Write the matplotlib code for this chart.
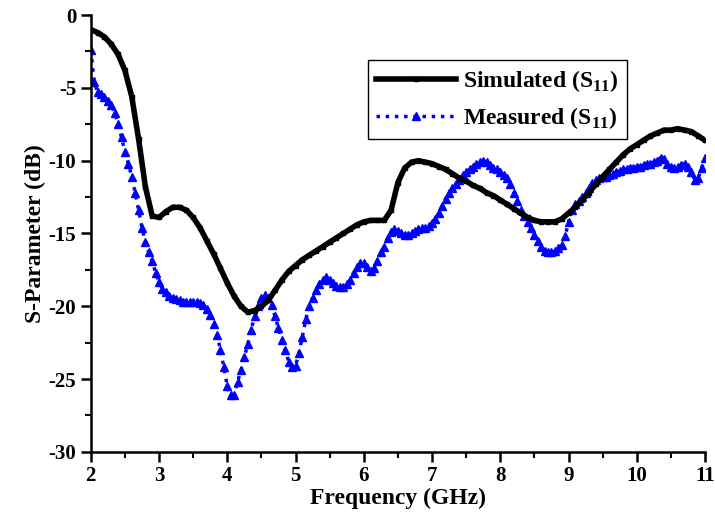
import numpy as np
import matplotlib
matplotlib.use("Agg")
import matplotlib.pyplot as plt
from matplotlib.ticker import MultipleLocator

plt.rcParams["font.family"] = ["Liberation Serif", "DejaVu Serif"]
plt.rcParams["font.weight"] = "bold"
plt.rcParams["axes.unicode_minus"] = False
plt.rcParams["mathtext.fontset"] = "custom"
plt.rcParams["mathtext.rm"] = "Liberation Serif:bold"
plt.rcParams["mathtext.bf"] = "Liberation Serif:bold"

# frequency grids (GHz)
freq_sim = np.round(np.arange(2.0, 11.0001, 0.1), 2)
freq_meas = np.round(np.arange(2.0, 11.0001, 0.05), 2)

# simulated S11 (dB)
s11_sim = [
    -1.0, -1.2, -1.5, -2.0, -2.7, -3.8, -5.6, -8.5, -11.8, -13.8,
    -13.9, -13.5, -13.2, -13.2, -13.4, -13.9, -14.6, -15.5, -16.4, -17.4,
    -18.4, -19.3, -20.0, -20.4, -20.3, -20.0, -19.6, -18.9, -18.2, -17.6,
    -17.2, -16.8, -16.5, -16.2, -15.9, -15.6, -15.3, -15.0, -14.7, -14.4,
    -14.2, -14.1, -14.1, -14.1, -13.4, -11.5, -10.5, -10.1, -10.0, -10.1,
    -10.2, -10.4, -10.6, -10.9, -11.2, -11.4, -11.7, -11.9, -12.2, -12.4,
    -12.7, -13.0, -13.3, -13.6, -13.9, -14.1, -14.2, -14.2, -14.2, -14.0,
    -13.6, -13.2, -12.7, -12.2, -11.6, -11.1, -10.6, -10.1, -9.6, -9.2,
    -8.9, -8.6, -8.3, -8.1, -7.9, -7.9, -7.8, -7.9, -8.0, -8.3,
    -8.6,
]

# measured S11 (dB)
s11_meas = [
    -2.4, -4.6, -5.3, -5.4, -5.6, -5.9, -6.2, -6.7, -7.5, -8.4,
    -9.4, -10.2, -11.1, -12.2, -13.4, -14.6, -15.6, -16.3, -16.9, -17.7,
    -18.3, -18.8, -19.0, -19.3, -19.4, -19.5, -19.6, -19.7, -19.7, -19.7,
    -19.7, -19.7, -19.8, -19.9, -20.2, -20.6, -21.2, -22.0, -23.0, -24.2,
    -25.5, -26.1, -26.1, -25.2, -24.4, -23.5, -22.6, -21.6, -20.7, -20.0,
    -19.4, -19.2, -19.4, -19.9, -20.7, -21.5, -22.3, -23.0, -23.8, -24.2,
    -24.1, -23.2, -22.1, -20.9, -20.0, -19.4, -18.9, -18.5, -18.2, -18.0,
    -18.2, -18.4, -18.6, -18.7, -18.7, -18.5, -18.2, -17.7, -17.3, -17.0,
    -17.0, -17.3, -17.6, -17.4, -16.9, -16.3, -15.9, -15.3, -14.9, -14.7,
    -14.8, -15.0, -15.1, -15.1, -15.0, -14.8, -14.7, -14.6, -14.6, -14.5,
    -14.3, -14.0, -13.6, -13.1, -12.6, -12.2, -11.9, -11.6, -11.3, -11.0,
    -10.8, -10.6, -10.4, -10.2, -10.1, -10.0, -10.1, -10.3, -10.5, -10.6,
    -10.8, -11.0, -11.2, -11.6, -12.2, -12.8, -13.4, -13.8, -14.2, -14.6,
    -15.1, -15.5, -15.9, -16.2, -16.3, -16.3, -16.2, -16.0, -15.8, -15.2,
    -14.2, -13.4, -13.0, -12.8, -12.5, -12.2, -11.9, -11.5, -11.3, -11.2,
    -11.1, -11.1, -11.0, -10.9, -10.8, -10.7, -10.6, -10.6, -10.5, -10.5,
    -10.4, -10.4, -10.3, -10.2, -10.2, -10.1, -10.0, -9.8, -9.9, -10.2,
    -10.4, -10.5, -10.4, -10.3, -10.2, -10.4, -10.8, -11.3, -11.2, -10.5,
    -9.8,
]

fig = plt.figure(figsize=(7.15, 5.2), dpi=100)
ax = fig.add_axes([0.127, 0.131, 0.859, 0.840])

ax.plot(freq_sim, s11_sim, color="black", lw=4.0, marker="s", ms=2.5,
        label=r"Simulated (S$_{11}$)", zorder=3)
ax.plot(freq_meas, s11_meas, color="blue", lw=2.5, ls=":", marker="^", ms=6,
        label=r"Measured (S$_{11}$)", zorder=2)

ax.set_xlim(2, 11)
ax.set_ylim(-30, 0)
ax.xaxis.set_major_locator(MultipleLocator(1))
ax.xaxis.set_minor_locator(MultipleLocator(0.5))
ax.yaxis.set_major_locator(MultipleLocator(5))
ax.yaxis.set_minor_locator(MultipleLocator(2.5))

for side in ("top", "right"):
    ax.spines[side].set_visible(False)
for side in ("left", "bottom"):
    ax.spines[side].set_linewidth(1.8)

ax.tick_params(which="major", direction="out", length=7, width=1.8,
               labelsize=15)
ax.tick_params(which="minor", direction="out", length=4, width=1.5)
for lab in ax.get_xticklabels() + ax.get_yticklabels():
    lab.set_fontweight("bold")

ax.set_xlabel("Frequency (GHz)", fontsize=17, fontweight="bold", labelpad=1)
ax.set_ylabel("S-Parameter (dB)", fontsize=17, fontweight="bold", labelpad=2)

leg = ax.legend(loc="upper left", bbox_to_anchor=(0.451, 0.897),
                fontsize=17, handlelength=3.4, handletextpad=0.3,
                borderpad=0.35, labelspacing=0.45, fancybox=False,
                framealpha=1, edgecolor="black", borderaxespad=0)
leg.get_frame().set_linewidth(1.0)
for t in leg.get_texts():
    t.set_fontweight("bold")

fig.savefig("out.png", dpi=100)
